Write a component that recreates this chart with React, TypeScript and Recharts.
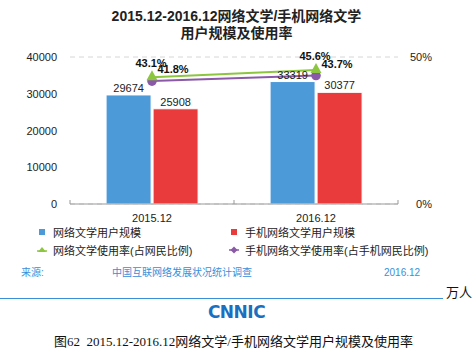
import React from 'react';
import { ComposedChart, Bar, Line, XAxis, YAxis, CartesianGrid, LabelList } from 'recharts';

const categories = ['2015.12', '2016.12'];
const netLitUsers = [29674, 33319];
const mobileLitUsers = [25908, 30377];
const netLitRate = [43.1, 45.6];
const mobileLitRate = [41.8, 43.7];
const leftTicks = [0, 10000, 20000, 30000, 40000];
const rightTicks = [0, 50];

const data = categories.map((c, i) => ({
  name: c,
  users: netLitUsers[i],
  mobileUsers: mobileLitUsers[i],
  rate: netLitRate[i],
  mobileRate: mobileLitRate[i],
}));

const W = 473;
const H = 260;
const LEFT_W = 70;
const RIGHT_W = 75;
const PLOT_W = W - LEFT_W - RIGHT_W;
const BAND = PLOT_W / categories.length;

const BLUE = '#4d9ad9';
const RED = '#e93a3c';
const GREEN = '#8cc63f';
const PURPLE = '#8a5aa8';
const SRC_BLUE = '#3a8fd9';
const FONT = '"Liberation Sans", Arial, "Noto Sans CJK SC", sans-serif';

const XTick = (props: any) => {
  const { x, y, payload, index } = props;
  const axisY = y - 8;
  const left = x - BAND / 2;
  const right = x + BAND / 2;
  return (
    <g>
      <line x1={left} y1={axisY} x2={left} y2={axisY - 4} stroke="#999" />
      {index === categories.length - 1 && (
        <line x1={right} y1={axisY} x2={right} y2={axisY - 4} stroke="#999" />
      )}
      <text x={x} y={axisY + 14} textAnchor="middle" dominantBaseline="central" fontSize={11} fill="#222" fontFamily={FONT}>
        {payload.value}
      </text>
    </g>
  );
};

const LeftTick = (props: any) => {
  const { y, payload } = props;
  return (
    <text x={57} y={y} textAnchor="end" dominantBaseline="central" fontSize={11} fill="#222" fontFamily={FONT}>
      {payload.value}
    </text>
  );
};

const RightTick = (props: any) => {
  const { y, payload } = props;
  return (
    <text x={432} y={y} textAnchor="end" dominantBaseline="central" fontSize={11} fill="#222" fontFamily={FONT}>
      {payload.value}%
    </text>
  );
};

const makeLineLabel = (dx: number, dy: number) => (props: any) => {
  const { x, y, value } = props;
  return (
    <text x={x + dx} y={y + dy} textAnchor="middle" dominantBaseline="central" fontSize={11} fontWeight="bold" fill="#111" fontFamily={FONT}>
      {value}%
    </text>
  );
};

const Triangle = (props: any) => {
  const { cx, cy } = props;
  if (cx == null || cy == null) return null;
  return <path d={`M${cx},${cy - 7} L${cx + 5.5},${cy + 3} L${cx - 5.5},${cy + 3} Z`} fill={GREEN} />;
};

const Circle = (props: any) => {
  const { cx, cy } = props;
  if (cx == null || cy == null) return null;
  return <circle cx={cx} cy={cy} r={4.8} fill={PURPLE} />;
};

export default function App() {
  return (
    <div style={{ position: 'fixed', left: 0, top: 0, width: W, height: 358, background: '#fff', overflow: 'hidden', fontFamily: FONT }}>
      <div style={{ position: 'absolute', left: 0, top: 0, width: W, textAlign: 'center', fontWeight: 'bold', fontSize: 14, lineHeight: '17px', color: '#222', paddingTop: 8 }}>
        <div>2015.12-2016.12网络文学/手机网络文学</div>
        <div>用户规模及使用率</div>
      </div>
      <div style={{ position: 'absolute', left: 0, top: 0 }}>
        <ComposedChart width={W} height={H} data={data} margin={{ top: 57, right: 0, bottom: 26, left: 0 }} barGap={2} barCategoryGap="22%">
          <CartesianGrid horizontal vertical={false} stroke="#d6d6d6" strokeDasharray="5 4" />
          <XAxis dataKey="name" axisLine={{ stroke: '#999' }} tickLine={false} tick={<XTick />} height={30} interval={0} />
          <YAxis yAxisId="left" width={LEFT_W} domain={[0, 40000]} ticks={leftTicks} axisLine={false} tickLine={false} tick={<LeftTick />} />
          <YAxis yAxisId="right" orientation="right" width={RIGHT_W} domain={[0, 50]} ticks={rightTicks} axisLine={false} tickLine={false} tick={<RightTick />} />
          <Bar yAxisId="left" dataKey="users" fill={BLUE} stroke="#fff" strokeWidth={1} isAnimationActive={false}>
            <LabelList dataKey="users" position="top" offset={3} fontSize={11} fill="#222" fontFamily={FONT} />
          </Bar>
          <Bar yAxisId="left" dataKey="mobileUsers" fill={RED} stroke="#fff" strokeWidth={1} isAnimationActive={false}>
            <LabelList dataKey="mobileUsers" position="top" offset={3} fontSize={11} fill="#222" fontFamily={FONT} />
          </Bar>
          <Line yAxisId="right" dataKey="mobileRate" stroke={PURPLE} strokeWidth={2} dot={<Circle />} activeDot={false} isAnimationActive={false}>
            <LabelList dataKey="mobileRate" content={makeLineLabel(21, -12)} />
          </Line>
          <Line yAxisId="right" dataKey="rate" stroke={GREEN} strokeWidth={2} dot={<Triangle />} activeDot={false} isAnimationActive={false}>
            <LabelList dataKey="rate" content={makeLineLabel(-1, -14)} />
          </Line>
        </ComposedChart>
      </div>
      {/* Legend */}
      <div style={{ position: 'absolute', left: 0, top: 0, width: W, height: 260, fontSize: 11, color: '#222' }}>
        <div style={{ position: 'absolute', left: 39, top: 229, width: 6, height: 6, background: BLUE }} />
        <div style={{ position: 'absolute', left: 53, top: 225, lineHeight: '16px' }}>网络文学用户规模</div>
        <div style={{ position: 'absolute', left: 231, top: 229, width: 6, height: 6, background: RED }} />
        <div style={{ position: 'absolute', left: 245, top: 225, lineHeight: '16px' }}>手机网络文学用户规模</div>
        <svg style={{ position: 'absolute', left: 37, top: 245 }} width={10} height={10}>
          <line x1={0} y1={6} x2={10} y2={6} stroke={GREEN} strokeWidth={1.5} />
          <path d="M5,2 L9,7 L1,7 Z" fill={GREEN} />
        </svg>
        <div style={{ position: 'absolute', left: 53, top: 243, lineHeight: '16px' }}>网络文学使用率(占网民比例)</div>
        <svg style={{ position: 'absolute', left: 229, top: 245 }} width={10} height={10}>
          <line x1={0} y1={5} x2={10} y2={5} stroke={PURPLE} strokeWidth={1.5} />
          <path d="M5,1.5 L8.5,5 L5,8.5 L1.5,5 Z" fill={PURPLE} />
        </svg>
        <div style={{ position: 'absolute', left: 245, top: 243, lineHeight: '16px' }}>手机网络文学使用率(占手机网民比例)</div>
      </div>
      {/* Source */}
      <div style={{ position: 'absolute', left: 21, top: 266, fontSize: 10, color: SRC_BLUE, lineHeight: '14px' }}>来源:</div>
      <div style={{ position: 'absolute', left: 112, top: 266, fontSize: 10, color: SRC_BLUE, lineHeight: '14px' }}>中国互联网络发展状况统计调查</div>
      <div style={{ position: 'absolute', left: 384, top: 266, fontSize: 10, color: SRC_BLUE, lineHeight: '14px' }}>2016.12</div>
      <div style={{ position: 'absolute', left: 0, top: 298, width: 443, height: 1, background: SRC_BLUE }} />
      <div style={{ position: 'absolute', left: 446, top: 285, fontSize: 13, color: '#111', lineHeight: '15px' }}>万人</div>
      <div style={{ position: 'absolute', left: 0, top: 302, width: W, textAlign: 'center', fontSize: 17, fontWeight: 900, color: '#1c6fbf', letterSpacing: -0.5, lineHeight: '20px', fontFamily: '"DejaVu Sans", sans-serif' }}>
        CNNIC
      </div>
      <div style={{ position: 'absolute', left: 54, top: 334, fontSize: 13, color: '#111', lineHeight: '16px', fontFamily: '"Liberation Serif", "Noto Sans CJK SC", serif', whiteSpace: 'pre' }}>
        图62  2015.12-2016.12网络文学/手机网络文学用户规模及使用率
      </div>
    </div>
  );
}
